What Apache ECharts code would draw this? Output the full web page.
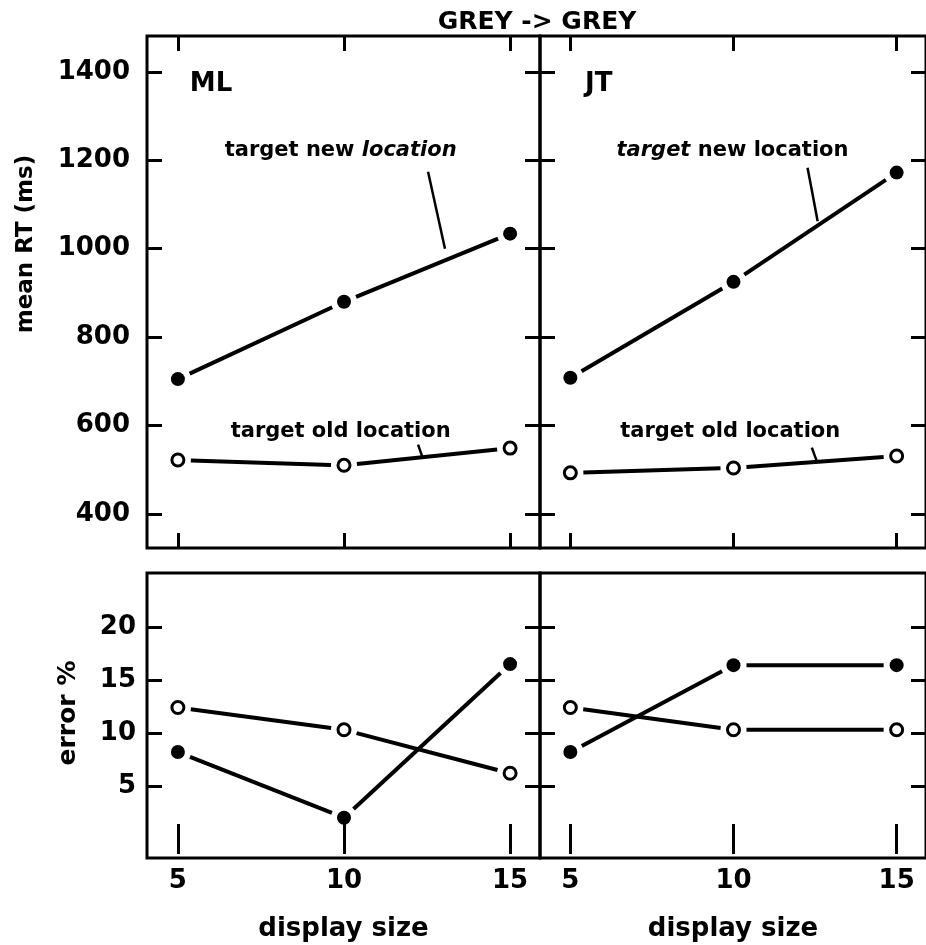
<!DOCTYPE html>
<html>
<head>
<meta charset="utf-8">
<style>html,body{margin:0;padding:0;background:#fff}#chart{width:926px;height:945px}</style>
<script src="https://cdn.jsdelivr.net/npm/echarts@6/dist/echarts.min.js"></script>
</head>
<body>
<div id="chart"></div>
<script>
var sizes = [5, 10, 15];
var rtTicks = [400, 600, 800, 1000, 1200, 1400];
var errTicks = [5, 10, 15, 20];

// mean RT (ms)
var mlRtNew = [705, 880, 1034];
var mlRtOld = [522, 510, 549];
var jtRtNew = [708, 925, 1172];
var jtRtOld = [493, 504, 531];

// error %
var mlErrNew = [8.2, 2.0, 16.5];
var mlErrOld = [12.4, 10.3, 6.2];
var jtErrNew = [8.2, 16.4, 16.4];
var jtErrOld = [12.4, 10.3, 10.3];

// annotation anchors, in data units [display size, value]
var notes = [
    {grid: 0, at: [5.36, 1371], text: '{s|ML}', align: 'left'},
    {grid: 1, at: [5.45, 1371], text: '{s|JT}', align: 'left'},
    {grid: 0, at: [9.9, 1223], text: '{n|target new }{i|location}'},
    {grid: 1, at: [9.97, 1223], text: '{i|target}{n| new location}'},
    {grid: 0, at: [9.9, 586], text: '{n|target old location}'},
    {grid: 1, at: [9.9, 586], text: '{n|target old location}'}
];
var leaders = [
    {grid: 0, pts: [[12.53, 1174], [13.04, 1000]]},
    {grid: 1, pts: [[12.27, 1183], [12.58, 1062]]},
    {grid: 0, pts: [[12.23, 557], [12.35, 531]]},
    {grid: 1, pts: [[12.4, 550], [12.55, 520]]}
];

var FONT = 'DejaVu Sans';
var GAP = 13; // px left open between a line and its markers
var myChart = echarts.init(document.getElementById('chart'));

var gridPos = [
    {left: 147, top: 36, width: 393, height: 512},
    {left: 540, top: 36, width: 393, height: 512},
    {left: 147, top: 573, width: 393, height: 285},
    {left: 540, top: 573, width: 393, height: 285}
];
var grids = gridPos.map(function (g) {
    return Object.assign({show: true, borderColor: '#000', borderWidth: 3, backgroundColor: 'transparent'}, g);
});

function ticks(values) {
    return {show: true, inside: true, length: 15, customValues: values, lineStyle: {color: '#000', width: 3}};
}
function plain(v) { return String(v); }

var xAxis = [], yAxis = [];
gridPos.forEach(function (g, i) {
    var bottomRow = i >= 2, leftCol = i % 2 === 0;
    ['bottom', 'top'].forEach(function (pos) {
        var main = pos === 'bottom' && bottomRow;
        xAxis.push({
            gridIndex: i, type: 'value', position: pos, min: 4.07, max: 15.9,
            axisLine: {show: false}, splitLine: {show: false},
            axisTick: ticks(sizes),
            axisLabel: {show: main, customValues: sizes, margin: 10, color: '#000',
                fontFamily: FONT, fontSize: 26, fontWeight: 'bold', formatter: plain},
            name: main ? 'display size' : '', nameLocation: 'middle', nameGap: 58,
            nameTextStyle: {color: '#000', fontFamily: FONT, fontSize: 26, fontWeight: 'bold'}
        });
    });
    var vals = bottomRow ? errTicks : rtTicks;
    ['left', 'right'].forEach(function (pos) {
        yAxis.push({
            gridIndex: i, type: 'value', position: pos,
            min: bottomRow ? -1.8 : 323, max: bottomRow ? 25.1 : 1481,
            axisLine: {show: false}, splitLine: {show: false},
            axisTick: ticks(vals),
            axisLabel: {show: pos === 'left' && leftCol, customValues: vals, margin: bottomRow ? 11 : 17,
                color: '#000', fontFamily: FONT, fontSize: 26, fontWeight: 'bold', formatter: plain}
        });
    });
});

var panels = [
    {newVals: mlRtNew, oldVals: mlRtOld},
    {newVals: jtRtNew, oldVals: jtRtOld},
    {newVals: mlErrNew, oldVals: mlErrOld},
    {newVals: jtErrNew, oldVals: jtErrOld}
];

// the connecting lines stop short of each marker; drawn as graphic lines
// whose ends come from the grid's own data-to-pixel conversion
function gapLines() {
    var out = [];
    panels.forEach(function (p, i) {
        [p.newVals, p.oldVals].forEach(function (vals) {
            var px = sizes.map(function (s, j) {
                return myChart.convertToPixel({gridIndex: i}, [s, vals[j]]);
            });
            for (var j = 0; j < px.length - 1; j++) {
                var a = px[j], b = px[j + 1];
                var dx = b[0] - a[0], dy = b[1] - a[1];
                var len = Math.sqrt(dx * dx + dy * dy);
                var ux = dx / len, uy = dy / len;
                out.push({
                    type: 'line', silent: true, z: 3,
                    shape: {x1: a[0] + ux * GAP, y1: a[1] + uy * GAP, x2: b[0] - ux * GAP, y2: b[1] - uy * GAP},
                    style: {stroke: '#000', lineWidth: 4}
                });
            }
        });
    });
    return out;
}

var series = [];
panels.forEach(function (p, i) {
    [p.newVals, p.oldVals].forEach(function (vals, k) {
        var points = sizes.map(function (s, j) { return [s, vals[j]]; });
        series.push({
            type: 'scatter', data: points, symbol: 'circle', z: 4, silent: true,
            xAxisIndex: i * 2, yAxisIndex: i * 2,
            symbolSize: k === 0 ? 14 : 12,
            itemStyle: k === 0 ? {color: '#000', opacity: 1} : {color: '#fff', borderColor: '#000', borderWidth: 3, opacity: 1}
        });
    });
});

leaders.forEach(function (l) {
    series.push({
        type: 'line', xAxisIndex: l.grid * 2, yAxisIndex: l.grid * 2, data: l.pts,
        symbol: 'none', silent: true, lineStyle: {color: '#000', width: 2.5}
    });
});

notes.forEach(function (n) {
    series.push({
        type: 'scatter', xAxisIndex: n.grid * 2, yAxisIndex: n.grid * 2, silent: true,
        symbolSize: 1, itemStyle: {color: 'rgba(0,0,0,0)', opacity: 1}, z: 5,
        data: [{value: n.at}],
        label: {
            show: true, position: 'inside', formatter: n.text, align: n.align || 'center',
            verticalAlign: 'middle', opacity: 1,
            rich: {
                n: {fontFamily: FONT, fontSize: 21, fontWeight: 'bold', color: '#000'},
                i: {fontFamily: FONT, fontSize: 21, fontWeight: 'bold', fontStyle: 'italic', color: '#000'},
                s: {fontFamily: FONT, fontSize: 26, fontWeight: 'bold', color: '#000'}
            }
        }
    });
});

var labels = [
    {type: 'text', x: 537, y: 22, style: {text: 'GREY -> GREY', fill: '#000', font: 'bold 25px "DejaVu Sans"', textAlign: 'center', textVerticalAlign: 'middle'}},
    {type: 'text', x: 26, y: 244, rotation: Math.PI / 2, style: {text: 'mean RT (ms)', fill: '#000', font: 'bold 23px "DejaVu Sans"', textAlign: 'center', textVerticalAlign: 'middle'}},
    {type: 'text', x: 68, y: 713, rotation: Math.PI / 2, style: {text: 'error %', fill: '#000', font: 'bold 25px "DejaVu Sans"', textAlign: 'center', textVerticalAlign: 'middle'}}
];

myChart.setOption({
    animation: false,
    backgroundColor: '#fff',
    grid: grids,
    xAxis: xAxis,
    yAxis: yAxis,
    series: series,
    graphic: labels
});
myChart.setOption({graphic: labels.concat(gapLines())}, {replaceMerge: ['graphic']});
</script>
</body>
</html>
